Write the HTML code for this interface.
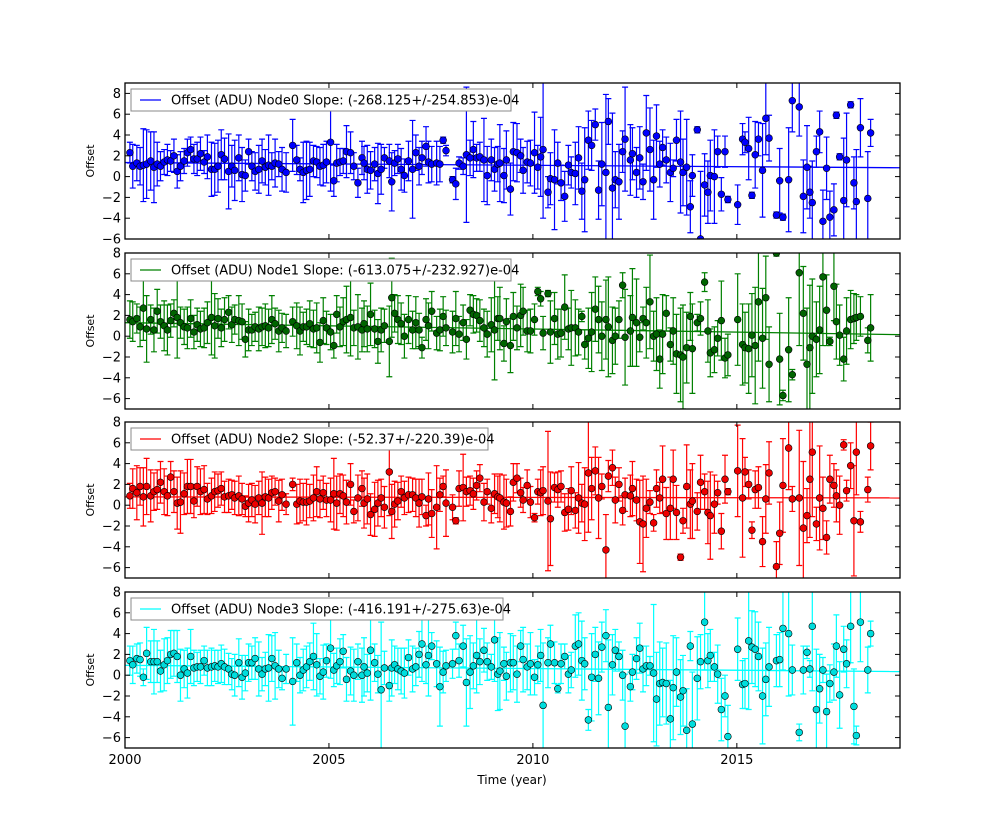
<!DOCTYPE html>
<html><head><meta charset="utf-8">
<style>
html,body{margin:0;padding:0;background:#fff;}
svg{display:block;font-family:"DejaVu Sans","Liberation Sans",sans-serif;}
</style></head>
<body>
<svg id="chart" width="1000" height="832" viewBox="0 0 1000 832" xmlns="http://www.w3.org/2000/svg"></svg>
<script>
// ---- data ----
const years = [2000.12,2000.19,2000.29,2000.37,2000.45,2000.53,2000.63,2000.71,2000.79,2000.87,
2000.96,2001.04,2001.12,2001.20,2001.28,2001.36,2001.45,2001.53,2001.61,2001.69,
2001.77,2001.85,2001.94,2002.02,2002.12,2002.20,2002.28,2002.36,2002.44,2002.54,
2002.62,2002.69,2002.79,2002.87,2002.95,2003.03,2003.11,2003.19,2003.28,2003.36,
2003.44,2003.52,2003.60,2003.68,2003.77,2003.85,2003.95,2004.11,2004.21,2004.29,
2004.37,2004.45,2004.53,2004.62,2004.70,2004.78,2004.86,2004.94,2005.04,2005.12,
2005.19,2005.27,2005.35,2005.43,2005.53,2005.61,2005.71,2005.81,2005.86,2005.94,
2006.02,2006.12,2006.20,2006.28,2006.36,2006.48,2006.54,2006.61,2006.69,2006.77,
2006.85,2006.95,2007.05,2007.13,2007.21,2007.28,2007.38,2007.44,2007.52,2007.64,
2007.72,2007.80,2007.87,2008.03,2008.11,2008.19,2008.29,2008.37,2008.46,2008.54,
2008.62,2008.70,2008.80,2008.88,2008.98,2009.06,2009.14,
2009.19,2009.29,2009.35,2009.45,2009.52,2009.61,2009.70,2009.76,2009.86,2009.94,
2010.04,2010.12,2010.19,2010.25,2010.37,2010.43,2010.53,2010.61,2010.69,2010.78,
2010.87,2010.94,2011.04,2011.12,2011.20,2011.27,2011.36,2011.44,2011.53,2011.61,
2011.69,2011.79,2011.85,2011.95,2012.02,2012.11,2012.20,2012.26,2012.39,2012.44,
2012.54,2012.62,2012.70,2012.78,2012.87,2012.96,2013.03,2013.11,2013.18,2013.27,
2013.37,2013.44,2013.52,2013.62,2013.68,2013.77,2013.86,2013.91,2014.03,2014.11,
2014.21,2014.29,2014.35,2014.45,2014.53,2014.62,2014.71,2014.78,2015.02,2015.14,
2015.20,2015.29,2015.37,2015.45,2015.53,2015.63,2015.71,2015.79,2015.97,2016.05,
2016.13,2016.27,2016.36,2016.53,2016.63,2016.72,2016.79,2016.85,2016.95,2017.03,
2017.11,2017.20,2017.28,2017.38,2017.44,2017.52,2017.62,2017.69,2017.79,2017.87,
2017.93,2018.03,2018.21,2018.28];

const node0 = [2.3,1.0,1.3,1.0,1.1,1.2,1.5,0.9,1.2,1.0,1.4,1.6,1.5,2.0,0.5,1.0,1.5,2.3,2.6,1.7,
1.7,2.2,1.4,1.9,0.7,0.7,1.0,2.1,1.7,0.5,1.0,0.6,1.8,0.2,0.1,2.4,1.0,0.5,0.7,1.5,
0.9,1.1,1.0,1.3,1.2,0.7,0.4,3.0,1.6,0.7,0.4,0.6,0.7,1.5,1.4,1.0,1.1,1.4,3.3,-0.4,
1.3,1.4,1.5,2.4,2.3,1.0,-0.6,1.8,1.3,0.7,0.6,1.2,0.3,0.7,1.8,1.5,-0.5,1.3,1.7,0.7,
0.1,1.5,0.7,2.3,1.0,1.8,2.9,1.4,1.2,1.3,1.2,3.5,2.5,-0.3,-0.7,1.3,1.0,2.1,1.8,2.6,
1.8,1.9,1.6,0.1,1.6,0.7,1.2,
1.3,0.1,1.6,-1.2,2.4,2.3,2.0,0.6,1.4,1.3,2.3,0.9,1.9,2.6,-1.5,-0.2,-0.3,1.3,-0.6,-1.9,
1.1,0.4,0.3,1.8,-1.4,-0.3,3.5,3.0,5.0,-1.3,1.2,0.4,5.3,-1.1,-0.3,-0.5,2.4,3.6,1.6,2.2,
0.4,1.8,-0.5,4.2,2.6,-0.3,3.9,1.2,2.8,1.6,0.4,0.8,3.5,1.4,0.4,0.9,-2.9,0.1,4.5,-6.0,
-0.8,-1.5,0.1,0.0,2.4,-1.7,2.4,-2.2,-2.7,3.6,3.3,2.7,-1.8,2.1,3.6,0.6,5.6,3.7,-3.7,-0.4,
-3.9,-0.3,7.3,6.7,-1.9,0.9,-1.5,-2.5,2.4,4.3,-4.3,0.8,-3.9,-3.2,5.9,1.9,-2.3,1.6,6.9,-0.6,
-2.4,4.7,-2.1,4.2];
const err0 = [1.0,2.1,1.7,1.8,3.5,3.3,2.8,3.4,2.1,1.4,1.2,1.5,1.0,1.6,1.6,1.4,1.2,1.3,1.2,1.4,
1.6,1.6,1.1,2.1,2.6,2.5,2.5,2.4,2.0,3.6,2.0,2.9,2.2,2.6,1.5,1.2,1.4,1.8,2.3,2.1,
1.7,2.9,1.3,2.3,1.2,2.1,1.9,2.5,1.4,1.1,2.9,2.8,2.6,1.5,1.5,1.8,2.0,2.0,4.7,1.5,
1.8,1.3,1.2,2.5,2.0,1.3,1.4,1.6,1.6,2.3,1.8,1.6,2.9,2.4,1.0,1.6,2.8,1.2,1.4,2.0,
1.6,1.9,4.7,1.7,1.8,1.6,1.9,2.0,1.7,2.1,1.7,0.3,0.5,0.3,1.5,0.6,0.8,6.5,1.7,2.7,
1.3,1.4,4.0,2.8,2.0,2.1,1.7,
3.7,2.6,2.8,2.5,2.8,2.8,1.6,2.2,2.0,2.2,3.9,2.1,3.8,6.6,1.5,2.5,4.8,2.0,1.7,2.4,
1.9,1.5,3.0,3.0,2.7,5.0,2.8,2.4,1.5,2.8,4.0,7.5,2.2,7.2,2.7,3.6,2.0,5.0,3.4,2.5,
2.4,3.0,1.7,3.6,4.0,3.8,3.0,2.2,1.7,2.2,2.8,0.8,2.0,4.9,3.2,4.6,2.5,2.0,0.3,6.5,
3.0,3.0,3.4,4.5,1.5,1.6,1.5,0.3,1.9,1.5,1.0,3.0,0.3,3.2,1.6,4.5,3.5,2.2,0.3,3.1,
0.3,5.0,3.0,2.8,3.5,4.0,2.5,4.0,1.5,2.0,3.0,3.0,2.5,2.5,0.3,0.3,6.0,4.5,0.3,2.5,
5.0,2.8,4.5,1.3];

const node1 = [1.6,1.4,1.7,0.9,2.7,0.7,1.6,0.6,2.4,1.4,1.0,0.6,1.5,2.2,1.8,1.3,0.9,0.8,1.7,0.4,
1.1,0.7,0.8,1.3,1.8,1.0,1.7,0.8,1.6,2.3,1.1,1.6,1.5,1.4,-0.3,0.6,0.6,0.9,0.7,0.9,
1.0,0.8,1.6,1.2,0.5,0.8,0.5,1.4,1.0,0.5,0.9,0.9,1.2,0.7,0.8,-0.6,1.5,0.8,0.4,-0.9,
2.1,0.9,1.4,1.6,1.8,0.8,0.9,0.6,1.2,0.7,2.1,0.7,-0.5,0.6,1.0,-0.5,3.7,2.2,1.6,1.2,
0.0,1.6,0.6,1.3,0.6,-1.1,1.6,1.0,2.4,0.3,0.6,1.9,0.8,0.4,1.7,0.2,1.3,-0.3,2.5,2.1,
2.0,1.5,0.8,0.2,1.1,0.6,1.7,
1.7,-0.7,1.4,-0.9,1.9,0.8,2.0,2.4,0.5,0.5,1.6,4.3,3.6,0.3,4.1,0.4,1.7,0.2,0.3,2.8,
0.7,0.8,0.8,0.4,1.9,-0.8,-0.2,0.4,2.6,1.6,0.0,1.6,0.9,-0.4,0.0,1.6,4.9,-0.1,0.5,1.8,
1.3,-0.1,1.7,1.3,3.3,0.0,0.2,-2.2,0.2,2.2,-0.8,0.5,-1.7,-1.8,-2.0,-1.1,1.9,-1.2,1.3,1.7,
5.2,0.5,-1.6,-1.3,-0.2,1.5,-2.1,-1.8,1.6,-0.8,-1.1,-1.2,0.1,-0.9,3.3,-0.2,3.7,-2.7,8.0,-2.2,
-5.7,-1.3,-3.7,6.1,2.2,-2.7,-1.1,0.0,-0.3,0.6,5.7,2.5,-0.5,4.8,1.4,0.1,-2.2,0.5,1.6,1.7,
1.8,1.9,-0.4,0.8];
const err1 = [1.8,1.9,1.4,1.9,3.1,3.2,1.4,2.1,2.1,1.6,2.4,2.4,1.6,1.3,3.9,1.5,1.7,2.0,1.8,1.6,
1.6,1.7,1.9,2.0,3.6,3.1,1.9,1.8,2.1,1.6,1.7,1.4,2.4,1.7,1.7,2.0,1.5,1.4,2.1,1.8,
2.1,1.8,2.3,1.5,2.0,1.4,1.6,1.4,2.2,2.3,1.4,1.7,2.2,1.8,2.4,1.9,2.2,1.6,1.7,1.2,
1.8,1.9,2.3,3.2,3.7,1.7,3.1,2.1,2.2,2.2,3.0,1.8,2.1,2.1,1.6,3.4,3.8,1.8,2.3,2.0,
2.1,2.3,1.8,2.5,1.6,1.0,2.0,2.2,1.9,1.6,2.0,1.9,1.7,2.0,2.6,1.7,1.7,1.9,1.5,1.8,
1.6,2.0,1.8,2.2,2.6,4.8,2.1,
3.0,1.7,2.2,2.6,2.3,2.1,3.0,2.3,2.0,2.1,1.5,0.4,0.7,1.6,0.3,3.0,2.5,2.4,2.3,3.1,
2.0,3.6,2.7,2.2,0.5,1.4,2.9,3.8,3.1,3.2,3.3,3.8,4.8,3.2,2.7,1.8,1.2,4.6,3.4,4.7,
4.2,1.4,1.1,3.4,4.5,2.4,3.5,2.8,3.8,1.7,1.6,3.2,3.8,4.5,5.0,3.4,2.3,4.3,0.8,1.6,
0.9,3.0,2.3,2.2,1.7,3.8,1.9,2.0,4.4,3.9,3.4,4.3,4.0,5.6,5.7,4.8,4.0,3.6,0.3,4.4,
0.5,5.0,0.5,7.0,4.5,5.4,6.0,5.5,3.6,4.2,6.6,3.4,0.4,3.3,3.6,2.9,2.1,3.2,2.8,2.4,
2.2,1.9,1.2,3.2];

const node2 = [0.9,1.6,1.2,1.8,0.8,1.8,0.9,1.3,1.5,2.2,1.3,0.9,2.7,1.3,0.2,0.3,1.1,1.8,1.8,0.4,
1.8,1.3,1.5,0.6,0.9,1.3,1.4,1.6,0.8,0.9,1.0,0.7,0.9,0.6,-0.1,0.2,0.5,0.1,0.7,0.2,
0.8,0.7,1.2,1.3,0.4,1.0,0.1,2.0,0.1,0.4,0.3,0.3,0.4,0.7,1.3,0.6,1.2,0.5,0.5,1.1,
0.2,1.1,0.9,0.3,2.0,-0.6,0.7,1.6,0.2,0.6,-0.9,-0.4,0.2,0.7,-0.2,3.2,-0.6,0.1,0.4,1.3,
0.7,1.0,1.0,0.7,0.2,0.8,-1.0,0.6,-0.8,-0.2,1.0,1.8,0.2,-0.2,-1.5,1.6,1.7,1.3,1.4,1.1,
1.9,2.6,0.3,1.3,-0.3,1.1,0.8,
0.7,0.3,0.2,-0.6,2.2,2.6,1.2,0.5,1.9,0.3,-1.2,1.3,1.2,1.4,0.4,-1.3,1.7,1.5,1.8,-0.7,
-0.4,1.4,-0.5,0.7,0.2,0.1,3.1,1.6,3.3,0.7,1.8,-4.3,2.8,3.6,0.5,2.0,-0.5,1.0,0.9,1.6,
0.5,-1.6,-1.8,-0.3,0.3,-1.7,1.6,0.7,2.5,-0.8,-0.3,2.5,-0.7,-5.0,-1.5,1.8,0.1,0.4,-0.6,2.2,
1.3,-0.7,-1.0,0.1,1.2,-2.5,2.5,1.3,3.3,0.7,3.2,2.0,-2.4,1.5,1.7,-3.5,0.6,3.1,-5.9,-2.7,
1.9,5.5,0.6,0.7,-2.2,-1.0,2.5,5.1,-1.8,0.7,-0.3,-3.1,2.5,1.9,0.9,0.0,5.8,1.4,3.8,-1.5,
5.1,-1.6,1.5,5.7];
const err2 = [1.2,1.9,2.6,1.8,2.8,2.7,2.5,1.8,1.9,2.0,2.2,1.9,1.5,2.0,2.5,3.0,2.0,2.6,2.6,1.6,
1.9,2.2,2.3,1.5,1.7,1.9,1.6,1.6,1.5,1.6,1.4,1.6,1.9,1.5,1.0,1.8,1.6,1.8,1.6,3.0,
1.9,1.8,1.6,1.3,2.0,1.5,1.0,0.6,1.9,2.1,1.8,2.2,1.6,2.2,2.4,1.8,1.6,1.6,2.1,3.4,
2.6,1.9,2.0,2.1,2.0,1.1,2.2,1.7,2.4,2.4,2.0,2.6,2.2,1.8,2.0,4.2,2.6,2.2,1.8,1.5,
1.6,1.7,1.6,1.8,2.3,1.7,1.0,2.5,2.3,4.0,1.6,1.0,3.2,1.2,0.3,1.7,3.2,1.4,1.4,1.5,
1.4,1.3,1.8,1.2,1.4,1.9,2.0,
2.3,2.6,2.3,1.4,1.8,1.4,1.4,1.2,1.5,1.5,0.4,1.2,2.2,2.3,6.7,4.5,1.4,1.7,1.5,1.8,
2.0,2.3,1.7,3.4,1.8,3.5,5.7,3.0,2.3,3.9,1.2,3.4,1.5,1.7,2.2,1.6,1.4,1.6,2.0,2.6,
2.0,4.0,4.6,2.8,1.1,0.8,1.8,1.5,3.2,2.5,3.0,2.8,2.6,0.3,1.2,4.0,3.3,3.6,1.8,2.6,
1.7,3.0,4.2,2.8,1.1,1.7,2.3,0.3,4.4,5.7,1.4,1.4,0.8,1.8,2.0,2.4,3.3,3.0,2.4,3.0,
4.5,4.0,1.2,6.5,6.4,2.6,5.6,6.2,1.6,5.0,3.0,1.6,2.3,2.1,2.5,2.8,0.5,1.0,2.2,5.3,
4.1,1.0,1.2,2.3];

const node3 = [1.4,1.0,1.6,1.5,-0.2,2.1,1.3,1.3,1.3,0.4,1.0,1.4,2.0,2.1,1.8,0.0,0.6,0.2,1.8,0.7,
0.8,0.8,1.4,0.7,0.8,0.9,0.8,1.1,0.8,0.6,0.1,0.0,1.2,-0.2,0.2,1.2,1.2,1.6,0.6,0.1,
0.6,0.7,1.6,0.9,0.6,-0.3,0.6,-0.6,1.2,0.0,0.5,0.8,1.3,1.8,1.0,-0.1,0.3,1.4,2.6,0.5,
0.9,1.3,2.3,-0.4,0.4,0.0,1.3,0.0,0.8,0.2,2.4,1.2,0.1,-1.4,0.7,-1.0,0.7,1.0,0.6,0.4,
0.2,1.7,0.6,0.8,2.0,3.0,1.0,1.9,2.8,1.1,-1.1,0.3,0.9,1.1,3.8,1.4,2.8,-0.7,0.3,0.9,
1.9,1.3,2.4,1.3,0.8,3.4,0.1,
0.4,1.1,-0.1,1.2,1.2,0.1,2.8,1.5,0.8,1.1,-0.2,1.0,1.9,-2.9,1.2,3.0,1.2,-1.3,1.1,1.8,
0.1,0.5,2.8,3.0,1.4,1.1,-4.3,-0.2,2.0,-0.3,2.7,3.8,-3.1,1.0,2.4,1.8,0.0,-4.9,-1.1,0.3,
1.6,2.6,0.6,0.9,0.9,0.2,-2.3,-0.8,-0.7,-0.8,-4.2,-1.2,0.3,-2.1,-1.5,-5.3,2.8,-4.7,-0.3,1.3,
5.1,1.4,1.9,0.8,0.1,-3.3,-2.0,-5.9,2.5,-0.9,-0.8,3.3,2.7,2.5,1.8,-2.0,-0.4,0.8,1.4,1.5,
4.5,4.0,0.5,-5.5,0.5,2.2,0.6,4.7,-3.3,-1.3,0.5,-3.5,-0.8,0.3,2.8,-1.9,2.5,1.1,4.7,-3.0,
-5.8,5.1,0.5,4.0];
const err3 = [1.4,1.8,1.4,1.6,0.8,2.5,2.0,3.1,2.0,2.0,2.5,2.2,2.3,2.2,2.5,2.5,1.8,2.4,2.6,1.7,
1.4,1.6,1.4,1.7,1.8,1.5,1.6,1.8,1.7,1.5,1.5,2.0,2.3,2.1,1.7,1.8,1.6,2.0,2.6,1.6,
1.6,3.2,2.2,3.2,1.8,1.1,1.4,4.2,1.8,1.7,2.0,2.0,1.8,3.2,3.0,1.7,2.6,1.6,2.9,1.6,
1.7,2.2,1.6,2.1,2.3,2.5,1.7,2.6,2.8,1.8,4.8,1.8,1.8,6.5,1.6,1.5,2.7,1.8,2.0,2.2,
2.4,1.7,2.2,1.8,2.2,3.6,1.8,3.9,1.3,2.2,3.8,2.0,1.5,1.4,1.3,1.6,2.0,4.2,3.5,2.2,
3.6,2.2,2.1,1.8,1.2,4.0,3.5,
3.7,1.6,2.3,2.8,2.6,2.7,1.5,3.1,2.2,3.0,1.7,1.8,2.5,6.0,2.4,1.8,2.0,0.4,1.9,1.2,
1.8,1.7,3.0,3.0,3.8,2.5,1.0,4.2,2.6,3.5,2.4,2.5,6.5,2.9,2.0,1.4,2.4,5.0,1.4,1.7,
2.0,2.4,2.2,1.9,0.9,6.6,4.5,4.0,3.3,3.9,3.7,5.0,3.3,3.6,3.4,4.0,1.4,5.0,4.0,2.6,
4.6,2.6,2.5,1.4,2.8,3.0,2.0,3.0,3.0,2.3,2.4,6.6,3.5,3.6,3.3,4.6,3.5,3.8,2.5,2.6,
4.0,6.0,2.4,0.8,2.3,0.6,0.8,6.2,5.8,3.3,1.2,3.6,1.8,2.7,3.0,3.2,2.2,2.3,3.5,3.6,
0.9,3.8,2.2,1.2];

// linear fit lines: [value at 2000, value at 2019]
const fitStart = [1.35, 1.3, 0.8, 0.95];
const fitEnd = [0.85, 0.15, 0.7, 0.35];
const legendLabels = [
 "Offset (ADU) Node0 Slope: (-268.125+/-254.853)e-04",
 "Offset (ADU) Node1 Slope: (-613.075+/-232.927)e-04",
 "Offset (ADU) Node2 Slope: (-52.37+/-220.39)e-04",
 "Offset (ADU) Node3 Slope: (-416.191+/-275.63)e-04"];
const xTicks = [2000, 2005, 2010, 2015];
const yTicks = [-6,-4,-2,0,2,4,6,8];

// ---- layout ----
const NS = "http://www.w3.org/2000/svg";
const svg = document.getElementById('chart');
const X0 = 125, X1 = 900, XMIN = 2000, XMAX = 2019;
const panels = [
 {top:83, bot:239, ymin:-6, ymax:9, vals:node0, errs:err0, color:'#0000ff', mfill:'#0000ff', legW:380},
 {top:253, bot:409, ymin:-7, ymax:8, vals:node1, errs:err1, color:'#008000', mfill:'#006400', legW:380},
 {top:422, bot:578, ymin:-7, ymax:8, vals:node2, errs:err2, color:'#ff0000', mfill:'#ee0000', legW:357},
 {top:592, bot:748, ymin:-7, ymax:8, vals:node3, errs:err3, color:'#00ffff', mfill:'#00dddd', legW:372}
];
function xs(t){ return X0 + (t - XMIN) / (XMAX - XMIN) * (X1 - X0); }
function mk(tag, attrs, parent){
  const e = document.createElementNS(NS, tag);
  for (const k in attrs) e.setAttribute(k, attrs[k]);
  (parent || svg).appendChild(e);
  return e;
}
const defs = mk('defs', {});

panels.forEach((p, pi) => {
  const ys = v => p.top + (p.ymax - v) / (p.ymax - p.ymin) * (p.bot - p.top);
  const g = mk('g', {});
  
  
  const cp = mk('clipPath', {id: 'clip' + pi}, defs);
  mk('rect', {x: X0, y: p.top, width: X1 - X0, height: p.bot - p.top}, cp);
  const plot = mk('g', {'clip-path': 'url(#clip' + pi + ')'}, g);
  
  

  // error bars
  const eg = mk('g', {stroke: p.color, 'stroke-width': 1.2, fill: 'none'}, plot);
  
  
  years.forEach((t, i) => {
    const x = xs(t), y1 = ys(p.vals[i] + p.errs[i]), y2 = ys(p.vals[i] - p.errs[i]);
    const path = mk('path', {d: `M${x},${y1}V${y2}M${x-3},${y1}H${x+3}M${x-3},${y2}H${x+3}`}, eg);
    
    
  });
  // fit line
  const fl = mk('line', {x1: xs(XMIN), y1: ys(fitStart[pi]), x2: xs(XMAX), y2: ys(fitEnd[pi]), stroke: p.color, 'stroke-width': 1.3}, plot);
  
  
  // points
  years.forEach((t, i) => {
    const c = mk('circle', {cx: xs(t), cy: ys(p.vals[i]), r: 3.4, fill: p.mfill, stroke: '#000', 'stroke-width': 0.6}, plot);
    
    
  });

  // frame
  const fr = mk('rect', {x: X0, y: p.top, width: X1 - X0, height: p.bot - p.top, fill: 'none', stroke: '#000', 'stroke-width': 1.3}, g);
  
  

  // y ticks
  yTicks.forEach(v => {
    const y = ys(v);
    if (y < p.top - 0.5 || y > p.bot + 0.5) return;
    mk('line', {x1: X0, y1: y, x2: X0 + 5, y2: y, stroke: '#000', 'stroke-width': 1}, g);
    mk('line', {x1: X1, y1: y, x2: X1 - 5, y2: y, stroke: '#000', 'stroke-width': 1}, g);
    const tx = mk('text', {x: X0 - 4, y: y + 4.5, 'text-anchor': 'end', 'font-size': 13, fill: '#000'}, g);
    tx.textContent = v < 0 ? '\u2212' + Math.abs(v) : String(v);
    
    
  });
  // x ticks
  xTicks.forEach(t => {
    const x = xs(t);
    mk('line', {x1: x, y1: p.bot, x2: x, y2: p.bot - 5, stroke: '#000', 'stroke-width': 1}, g);
    mk('line', {x1: x, y1: p.top, x2: x, y2: p.top + 5, stroke: '#000', 'stroke-width': 1}, g);
    if (pi === panels.length - 1) {
      const tx = mk('text', {x: x, y: p.bot + 16, 'text-anchor': 'middle', 'font-size': 13, fill: '#000'}, g);
      tx.textContent = String(t);
      
      
    }
  });
  // y axis title
  const cy = (p.top + p.bot) / 2;
  const yt = mk('text', {x: 94, y: cy, 'text-anchor': 'middle', 'font-size': 11, fill: '#000', transform: `rotate(-90 94 ${cy})`}, g);
  yt.textContent = 'Offset';
  
  

  // legend
  const lg = mk('g', {}, g);
  
  
  mk('rect', {x: 131, y: p.top + 6, width: p.legW, height: 22, fill: '#fff', stroke: '#888', 'stroke-width': 1}, lg);
  mk('line', {x1: 140, y1: p.top + 17, x2: 161, y2: p.top + 17, stroke: p.color, 'stroke-width': 1.3}, lg);
  const lt = mk('text', {x: 171, y: p.top + 21.5, 'font-size': 13, fill: '#000'}, lg);
  lt.textContent = legendLabels[pi];
  
  
});

const xt = mk('text', {x: 512, y: 784, 'text-anchor': 'middle', 'font-size': 12, fill: '#000'});
xt.textContent = 'Time (year)';


</script>
</body></html>
